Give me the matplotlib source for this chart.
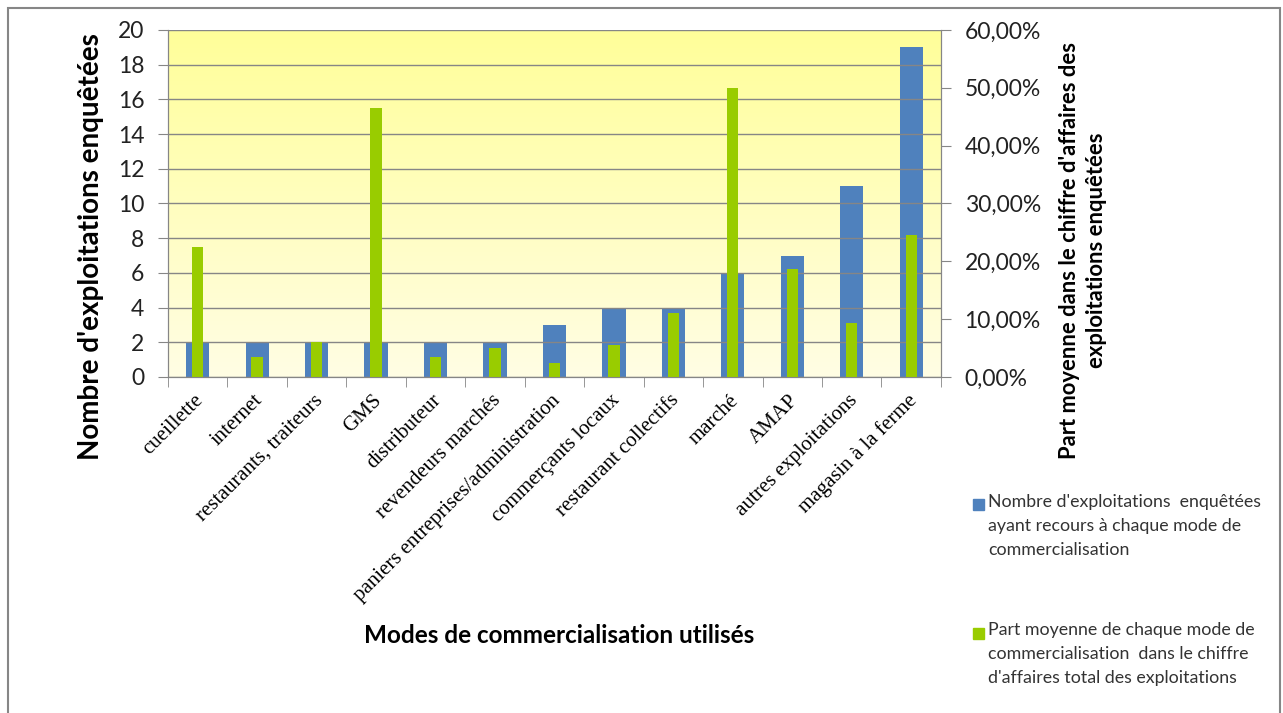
import numpy as np
import matplotlib
matplotlib.use("Agg")
import matplotlib.pyplot as plt
from matplotlib.patches import Rectangle
from matplotlib.ticker import FuncFormatter, MultipleLocator
from matplotlib.transforms import ScaledTranslation

# data
modes = ["cueillette", "internet", "restaurants, traiteurs", "GMS", "distributeur",
         "revendeurs marchés", "paniers entreprises/administration", "commerçants locaux",
         "restaurant collectifs", "marché", "AMAP", "autres exploitations", "magasin à la ferme"]
nb_exploitations = [2, 2, 2, 2, 2, 2, 3, 4, 4, 6, 7, 11, 19]
part_ca = [22.5, 3.5, 6.0, 46.5, 3.5, 5.0, 2.4, 5.5, 11.1, 50.0, 18.7, 9.3, 24.6]

label_blue = "Nombre d'exploitations  enquêtées\nayant recours à chaque mode de\ncommercialisation"
label_green = "Part moyenne de chaque mode de\ncommercialisation  dans le chiffre\nd'affaires total des exploitations"

blue = "#4f81bd"
green = "#99cc00"
grey = "#868686"

fig = plt.figure(figsize=(12.83, 7.13), dpi=100)
ax = fig.add_axes([0.1309, 0.4713, 0.6025, 0.4867])
ax2 = ax.twinx()

x = np.arange(len(modes))

# yellow gradient background
grad = np.linspace(0, 1, 256).reshape(-1, 1)
top_c = np.array([255, 255, 153]) / 255
bot_c = np.array([255, 253, 228]) / 255
img = bot_c[None, None, :] * (1 - grad[:, :, None]) + top_c[None, None, :] * grad[:, :, None]
ax.imshow(img, extent=[-0.5, len(modes) - 0.5, 0, 20], aspect="auto", origin="lower", zorder=0)

ax.bar(x, nb_exploitations, width=0.39, color=blue, zorder=2)
ax2.bar(x, part_ca, width=0.19, color=green, zorder=2)

ax.set_xlim(-0.5, len(modes) - 0.5)
ax.set_ylim(0, 20)
ax2.set_ylim(0, 60)
ax.yaxis.set_major_locator(MultipleLocator(2))
ax2.yaxis.set_major_locator(MultipleLocator(10))
ax2.yaxis.set_major_formatter(FuncFormatter(lambda v, p: f"{v:.2f}%".replace(".", ",")))

ax.grid(axis="y", color=grey, linewidth=1, zorder=1)
ax.set_axisbelow(False)
for a in (ax, ax2):
    for s in a.spines.values():
        s.set_color(grey)
ax.spines["top"].set_visible(False)
ax2.spines["top"].set_visible(False)

ax.tick_params(axis="y", direction="out", length=7, color=grey, labelsize=16.5, pad=10)
ax2.tick_params(axis="y", direction="out", length=7, color=grey, labelsize=16.5, pad=10)
for t in ax.get_yticklabels() + ax2.get_yticklabels():
    t.set_fontfamily("Lato")
    t.set_color("#222222")

# category ticks between bars, labels at centers
ax.set_xticks(x)
ax.set_xticklabels(modes, rotation=45, ha="right", va="center", rotation_mode="anchor",
                   family="Liberation Serif", fontsize=15)
ax.set_xticks(np.arange(-0.5, len(modes)), minor=True)
ax.tick_params(axis="x", which="major", length=0, pad=15)
ax.tick_params(axis="x", which="minor", length=7, color=grey, direction="out")
for t in ax.get_xticklabels():
    t.set_transform(t.get_transform() + ScaledTranslation(3 / 100, 0, fig.dpi_scale_trans))

# axis titles
fig.text(91 / 1283, 1 - 247 / 713, "Nombre d'exploitations enquêtées", rotation=90, ha="center", va="center",
         family="Lato", fontweight="bold", fontsize=20)
fig.text(1083 / 1283, 1 - 250 / 713, "Part moyenne dans le chiffre d'affaires des\nexploitations enquêtées",
         rotation=90, ha="center", va="center", multialignment="center", family="Lato",
         fontweight="bold", fontsize=15.8, linespacing=1.4)
fig.text(0.436, 0.108, "Modes de commercialisation utilisés", ha="center", va="center",
         family="Lato", fontweight="bold", fontsize=17.5)

# legend drawn by hand at the right
fig.patches.append(Rectangle((973 / 1283, 1 - 510 / 713), 11 / 1283, 11 / 713, transform=fig.transFigure,
                             color=blue))
fig.text(988 / 1283, 1 - 494 / 713, label_blue, ha="left", va="top", family="Lato", fontsize=12.8,
         color="#333333", linespacing=1.6)
fig.patches.append(Rectangle((973 / 1283, 1 - 639 / 713), 11 / 1283, 11 / 713, transform=fig.transFigure,
                             color=green))
fig.text(988 / 1283, 1 - 622 / 713, label_green, ha="left", va="top", family="Lato", fontsize=12.8,
         color="#333333", linespacing=1.6)

# outer frame
fig.patches.append(Rectangle((8 / 1283, -0.05), 1272 / 1283, 1.05 - 8 / 713, transform=fig.transFigure,
                             fill=False, edgecolor=grey, linewidth=1.5))

fig.savefig("out.png", dpi=100)
